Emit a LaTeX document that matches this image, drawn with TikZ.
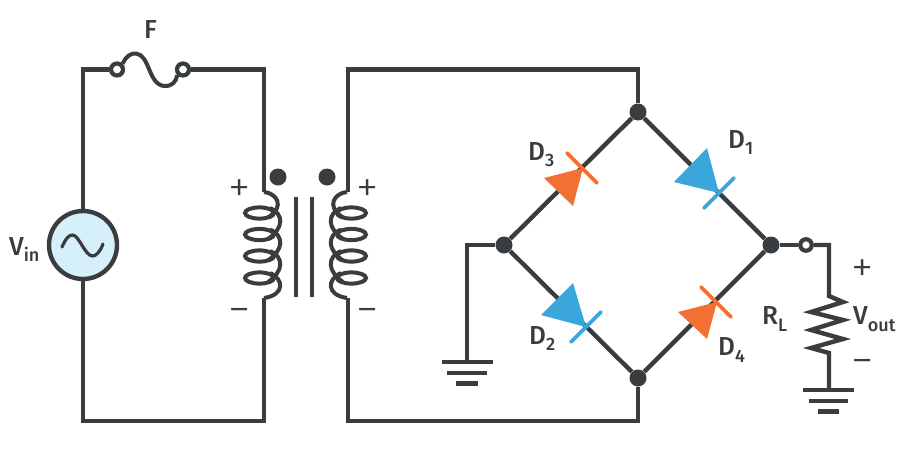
\documentclass[tikz,border=0pt]{standalone}
\usepackage{fontspec}
\setmainfont{Fira Sans Medium}
\newfontfamily\signfont{Fira Sans Light}
\definecolor{wire}{HTML}{3A3D40}
\definecolor{bluediode}{HTML}{3AA6DC}
\definecolor{orangediode}{HTML}{F37034}
\definecolor{sourcefill}{HTML}{D5F0FB}
\newcommand{\sublabel}[2]{#1\raisebox{-6.5pt}{\fontsize{18}{18}\selectfont #2}}
\newcommand{\coilturns}{
    \draw[coilline] (264,192) .. controls (276,193) and (286,206) .. (268,217.5);
    \foreach \y in {213,234.5,256,278} {
      \draw[coilline] (259.5,\y) ellipse (14.5 and 5.6);
    }
    \foreach \y in {213,234.5,256} {
      \draw[coilline] (270,\y-5) .. controls (284,\y+1) and (284,\y+15) .. (268,\y+26);
    }
    \draw[coilline] (270,273) .. controls (284,279) and (285,295) .. (264,298);
}
\tikzset{
  wireline/.style={draw=wire,line width=4.4pt},
  coilline/.style={draw=wire,line width=4pt},
  junction/.style={circle,fill=wire,inner sep=0pt,minimum size=17pt},
  terminal/.style={circle,draw=wire,fill=white,line width=4.2pt,inner sep=0pt,minimum size=12pt},
  groundbar/.style={draw=wire,line width=4.6pt},
  diodebar/.style={line width=3.8pt,line cap=round},
  txt/.style={text=wire,inner sep=0pt,anchor=base west,font=\fontsize{26}{26}\selectfont},
  sign/.style={text=wire,inner sep=0pt,anchor=base,font=\signfont\fontsize{45}{45}\selectfont},
}
\begin{document}
\begin{tikzpicture}[x=1pt,y=-1pt]
    \useasboundingbox[fill=white] (0,0) rectangle (900,469);
    % primary side
    \node[circle,draw=wire,fill=sourcefill,line width=4.4pt,inner sep=0pt,minimum size=68pt] (vin) at (83,245) {};
    \node[terminal] (fl) at (117,69.5) {};
    \node[terminal] (fr) at (183,69.5) {};
    \coordinate (c1) at (83,69.5);
    \coordinate (c2) at (264,69.5);
    \coordinate (c3) at (83,421);
    \coordinate (c4) at (264,421);
    \coordinate (p1) at (264,192);
    \coordinate (p2) at (264,298);
    \draw[wireline] (vin) -- (c1) -- (fl);
    \draw[wireline] (fr) -- (c2) -- (p1);
    \draw[wireline] (vin) -- (c3) -- (c4) -- (p2);
    \draw[wireline,line width=4pt] (fl.north east) .. controls (126,56) and (131,53) .. (136,53.5)
      .. controls (150,55) and (148,84) .. (164,86) .. controls (172,86.5) and (176,82) .. (fr.south west);
    \draw[wire,line width=3.2pt,line cap=round] (62,247) .. controls (66,238) and (69,235) .. (72.5,235)
      .. controls (79,235) and (85,256) .. (92.5,256) .. controls (96,256) and (100,252) .. (103,244);
    % transformer
    \coilturns
    \begin{scope}[shift={(611,0)},xscale=-1]
      \coilturns
    \end{scope}
    \node[junction] (d1) at (278,177) {};
    \node[junction] (d2) at (327,177) {};
    \draw[wire,line width=4.8pt] (296,197) -- (296,297);
    \draw[wire,line width=4.8pt] (312,197) -- (312,297);
    % secondary side and bridge
    \node[junction] (top) at (638,112) {};
    \node[junction] (rgt) at (771,245) {};
    \node[junction] (bot) at (638,378) {};
    \node[junction] (lft) at (504,245) {};
    \node[terminal,minimum size=11.5pt] (out) at (806,245) {};
    \coordinate (s1) at (348,192);
    \coordinate (s2) at (348,69.5);
    \coordinate (s3) at (638,69.5);
    \coordinate (s4) at (348,298);
    \coordinate (s5) at (348,421);
    \coordinate (s6) at (638,421);
    \draw[wireline] (s1) -- (s2) -- (s3) -- (top);
    \draw[wireline] (s4) -- (s5) -- (s6) -- (bot);
    \draw[wireline] (top) -- (rgt);
    \draw[wireline] (rgt) -- (bot);
    \draw[wireline] (bot) -- (lft);
    \draw[wireline] (lft) -- (top);
    \draw[wireline] (rgt) -- (out);
    % diodes
    \fill[bluediode] (707,148) -- (674,182) -- (719,193) -- cycle;
    \draw[bluediode,diodebar] (734,178) -- (704,208);
    \fill[orangediode] (544,178) -- (573,206) -- (583,168) -- cycle;
    \draw[orangediode,diodebar] (567,153) -- (597,183);
    \fill[bluediode] (573,283) -- (541,315) -- (586,327) -- cycle;
    \draw[bluediode,diodebar] (601,312) -- (571,342);
    \fill[orangediode] (678,312) -- (707,339) -- (717,302) -- cycle;
    \draw[orangediode,diodebar] (701,287) -- (731,317);
    % grounds and load
    \coordinate (g1) at (467,245);
    \coordinate (g2) at (467,362);
    \draw[wireline] (lft) -- (g1) -- (g2);
    \draw[groundbar] (442,362) -- (493,362);
    \draw[groundbar] (447,373) -- (487,373);
    \draw[groundbar] (456,383.5) -- (478,383.5);
    \coordinate (r1) at (829,245);
    \coordinate (r2) at (829,296);
    \coordinate (r3) at (829,353);
    \coordinate (g3) at (829,390);
    \draw[wireline] (out) -- (r1) -- (r2) -- (843,302) -- (811,312) -- (843,320) -- (811,330)
      -- (843,339) -- (811,348) -- (r3) -- (g3);
    \draw[groundbar] (803,390) -- (854,390);
    \draw[groundbar] (809,401) -- (848,401);
    \draw[groundbar] (818,411.5) -- (839,411.5);
    % labels
    \node[txt] (lf) at (144,38) {F};
    \node[txt] (lvin) at (9,255) {\sublabel{V}{in}};
    \node[txt] (ld3) at (528,160) {\sublabel{D}{3}};
    \node[txt] (ld1) at (728,148) {\sublabel{D}{1}};
    \node[txt] (ld2) at (529,344) {\sublabel{D}{2}};
    \node[txt] (ld4) at (718,355.5) {\sublabel{D}{4}};
    \node[txt] (lrl) at (762,324.5) {\sublabel{R}{L}};
    \node[txt] (lvo) at (853,324.5) {\sublabel{V}{out}};
    \node[sign] (pa) at (240,202.5) {+};
    \node[sign] (ma) at (240,324) {−};
    \node[sign] (pb) at (368,202.5) {+};
    \node[sign] (mb) at (368,324) {−};
    \node[sign] (pc) at (863,282.5) {+};
    \node[sign] (mc) at (863,375) {−};
\end{tikzpicture}
\end{document}
